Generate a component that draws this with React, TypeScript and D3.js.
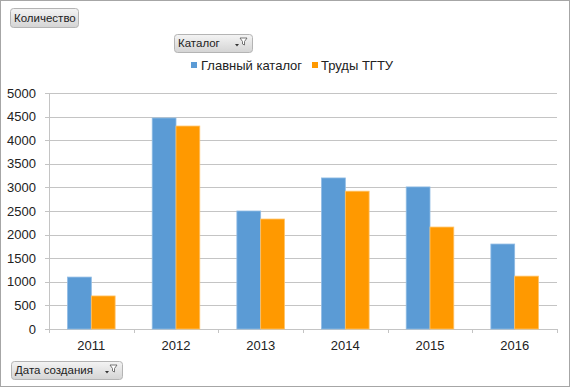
import React from 'react'
import * as d3 from 'd3'

const years = ['2011', '2012', '2013', '2014', '2015', '2016']
const mainCatalog = [1100, 4470, 2500, 3200, 3010, 1800]
const tgtuWorks = [700, 4300, 2330, 2920, 2160, 1120]
const seriesNames = ['Главный каталог', 'Труды ТГТУ']
const colors = ['#5b9bd5', '#ff9900']
const strokes = ['#8fbbe4', '#ffc266']
const yTicks = [0, 500, 1000, 1500, 2000, 2500, 3000, 3500, 4000, 4500, 5000]

const W = 572
const H = 388
const font = "'Liberation Sans', Arial, sans-serif"

function FieldButton({ x, y, w, h, label, filter }: { x: number; y: number; w: number; h: number; label: string; filter?: boolean }) {
  const fx = x + w - 14
  const fy = y + 4
  return (
    <g>
      <rect x={x + 0.5} y={y + 0.5} width={w} height={h} rx={3} fill="url(#btnGrad)" stroke="#b4b4b4" />
      <text x={x + 4} y={y + h / 2 + 4} fontSize={11.5} fill="#222" fontFamily={font}>{label}</text>
      {filter && (
        <g>
          <path d={`M${fx + 2},${fy} L${fx + 9},${fy} L${fx + 6.5},${fy + 3.5} L${fx + 6.5},${fy + 7} L${fx + 4.5},${fy + 6} L${fx + 4.5},${fy + 3.5} Z`} fill="#fff" stroke="#555" strokeWidth={0.8} />
          <path d={`M${fx - 3},${fy + 6} L${fx + 1},${fy + 6} L${fx - 1},${fy + 8.5} Z`} fill="#333" />
        </g>
      )}
    </g>
  )
}

export default function App() {
  const left = 49
  const right = 557
  const top = 93
  const bottom = 329

  const x0 = d3.scaleBand<string>().domain(years).range([left, right]).paddingInner(0).paddingOuter(0)
  const x1 = d3.scaleBand<number>().domain([0, 1]).range([0, x0.bandwidth()]).paddingOuter(0.78).paddingInner(0)
  const y = d3.scaleLinear().domain([0, 5000]).range([bottom, top])
  const series = [mainCatalog, tgtuWorks]

  return (
    <svg width={W} height={H} style={{ position: 'absolute', left: 0, top: 0 }} fontFamily={font}>
      <defs>
        <linearGradient id="btnGrad" x1="0" y1="0" x2="0" y2="1">
          <stop offset="0" stopColor="#f4f4f4" />
          <stop offset="1" stopColor="#d4d4d4" />
        </linearGradient>
      </defs>
      <rect x={0.5} y={0.5} width={W - 3} height={H - 2} fill="#fff" stroke="#a6a6a6" />

      {/* gridlines */}
      {yTicks.map(t => (
        <line key={t} x1={left - 4} x2={right} y1={Math.round(y(t)) + 0.5} y2={Math.round(y(t)) + 0.5} stroke="#c4c4c4" strokeWidth={t === 0 ? 1 : 1.2} />
      ))}
      <line x1={left + 0.5} x2={left + 0.5} y1={top} y2={bottom + 4} stroke="#c4c4c4" />
      {years.map(yr => (
        <line key={yr} x1={Math.round(x0(yr)! + x0.bandwidth()) + 0.5} x2={Math.round(x0(yr)! + x0.bandwidth()) + 0.5} y1={bottom} y2={bottom + 4} stroke="#c4c4c4" />
      ))}

      {/* y labels */}
      {yTicks.map(t => (
        <text key={t} x={36} y={y(t) + 4.5} textAnchor="end" fontSize={13} fill="#222">{t}</text>
      ))}

      {/* bars */}
      {years.map((yr, i) => (
        <g key={yr} transform={`translate(${x0(yr)},0)`}>
          {series.map((s, k) => (
            <rect key={k} x={x1(k)!} y={y(s[i])} width={x1.bandwidth()} height={bottom - y(s[i])} fill={colors[k]} stroke={strokes[k]} strokeWidth={0.8} />
          ))}
        </g>
      ))}

      {/* x labels */}
      {years.map(yr => (
        <text key={yr} x={x0(yr)! + x0.bandwidth() / 2} y={350} textAnchor="middle" fontSize={13} fill="#222">{yr}</text>
      ))}

      {/* legend */}
      <rect x={191} y={62} width={6} height={6} fill={colors[0]} />
      <text x={201} y={70} fontSize={13} fill="#222">{seriesNames[0]}</text>
      <rect x={312} y={62} width={6} height={6} fill={colors[1]} />
      <text x={321} y={70} fontSize={13} fill="#222">{seriesNames[1]}</text>

      <FieldButton x={10} y={8} w={68} h={19} label="Количество" />
      <FieldButton x={174} y={34} w={78} h={18} label="Каталог" filter />
      <FieldButton x={11} y={361} w={111} h={18} label="Дата создания" filter />
    </svg>
  )
}
